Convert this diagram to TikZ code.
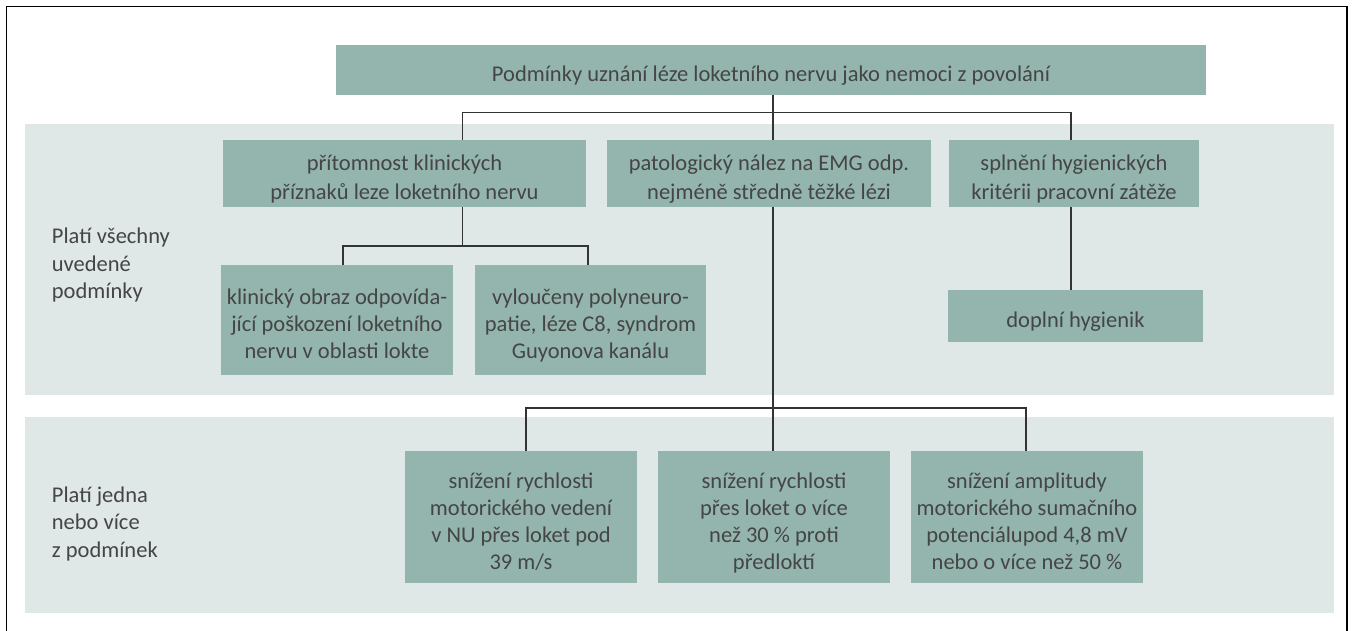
\documentclass[tikz,border=0pt]{standalone}
\usepackage{fontspec}
\setmainfont{Carlito}
\definecolor{boxfill}{HTML}{93B5AD}
\definecolor{panelfill}{HTML}{DFE8E6}
\definecolor{txt}{HTML}{454545}
\definecolor{linec}{HTML}{333333}
\newcommand{\mystrutA}{\rule{0pt}{31pt}}
\newcommand{\mystrutB}{\rule[-8pt]{0pt}{8pt}}
\begin{document}
\begin{tikzpicture}[x=1pt,y=-1pt,
  boxbase/.style={fill=boxfill, text=txt, align=center, inner sep=0pt},
  box/.style={boxbase, font=\fontsize{22.5}{27}\selectfont},
  boxw/.style={boxbase, font=\fontsize{22.5}{28.4}\selectfont},
  conn/.style={draw=linec, line width=1.2pt},
  side/.style={text=txt, align=left, anchor=west, inner sep=0pt,
    font=\fontsize{22.5}{27.4}\selectfont}]
\useasboundingbox (0,0) rectangle (1352,631);
\fill[white] (0,0) rectangle (1352,631);
% panels
\fill[panelfill] (25,124) rectangle (1334,395);
\fill[panelfill] (25,417) rectangle (1334,613);
% frame
\draw[line width=1.6pt, black] (6.5,640) -- (6.5,6.5) -- (1347,6.5) -- (1347,640);
% side labels
\node[side] (l1) at (51.7,259.7) {\mystrutA Platí všechny\\uvedené\\podmínky\mystrutB};
\node[side] (l2) at (51.7,518.4) {\mystrutA Platí jedna\\nebo více\\z podmínek\mystrutB};
% boxes
\node[box, minimum width=870pt, minimum height=50pt] (top) at (771,70)
  {\mystrutA Podmínky uznání léze loketního nervu jako nemoci z povolání\mystrutB};
\node[boxw, minimum width=363pt, minimum height=65pt] (A) at (404.5,173.5)
  {\mystrutA přítomnost klinických\\příznaků leze loketního nervu\mystrutB};
\node[boxw, minimum width=324pt, minimum height=65pt] (B) at (769,173.5)
  {\mystrutA patologický nález na EMG odp.\\nejméně středně těžké lézi\mystrutB};
\node[boxw, minimum width=250pt, minimum height=65pt] (C) at (1074,173.5)
  {\mystrutA splnění hygienických\\kritérii pracovní zátěže\mystrutB};
\node[box, minimum width=232pt, minimum height=110pt] (A1) at (337,320)
  {\mystrutA klinický obraz odpovída-\\jící poškození loketního\\nervu v oblasti lokte\mystrutB};
\node[box, minimum width=231pt, minimum height=110pt] (A2) at (590.5,320)
  {\mystrutA vyloučeny polyneuro-\\patie, léze C8, syndrom\\Guyonova kanálu\mystrutB};
\node[box, minimum width=255pt, minimum height=52pt] (C1) at (1075.5,316)
  {\mystrutA doplní hygienik\mystrutB};
\node[box, minimum width=232pt, minimum height=132pt] (D1) at (521,517)
  {\mystrutA snížení rychlosti\\motorického vedení\\v NU přes loket pod\\39 m/s\mystrutB};
\node[box, minimum width=232pt, minimum height=132pt] (D2) at (774,517)
  {\mystrutA snížení rychlosti\\přes loket o více\\než 30 \% proti\\předloktí\mystrutB};
\node[box, minimum width=232pt, minimum height=132pt] (D3) at (1027,517)
  {\mystrutA snížení amplitudy\\motorického sumačního\\potenciálupod 4,8 mV\\nebo o více než 50 \%\mystrutB};
% junction coordinates
\coordinate (h1l) at (462.7,112.7);
\coordinate (h1m) at (773,112.7);
\coordinate (h1r) at (1071,112.7);
\coordinate (h2l) at (343,246);
\coordinate (h2m) at (462.7,246);
\coordinate (h2r) at (588,246);
\coordinate (h3l) at (526,408);
\coordinate (h3m) at (773,408);
\coordinate (h3r) at (1026,408);
% connectors
\draw[conn] (top.south -| h1m) -- (B.north -| h1m);
\draw[conn] (A.north -| h1l) -- (h1l) -- (h1r) -- (C.north -| h1r);
\draw[conn] (A.south -| h2m) -- (h2m);
\draw[conn] (A1.north -| h2l) -- (h2l) -- (h2r) -- (A2.north -| h2r);
\draw[conn] (C.south -| h1r) -- (C1.north -| h1r);
\draw[conn] (B.south -| h3m) -- (D2.north -| h3m);
\draw[conn] (D1.north -| h3l) -- (h3l) -- (h3r) -- (D3.north -| h3r);
\end{tikzpicture}
\end{document}
